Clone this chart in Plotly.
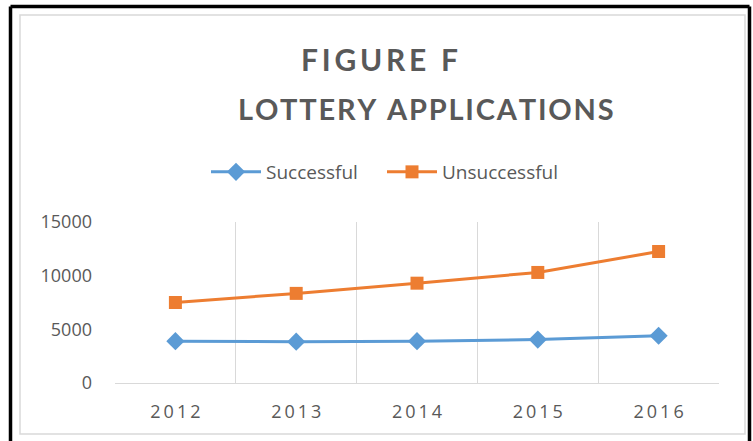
import plotly.graph_objects as go

years = ["2012", "2013", "2014", "2015", "2016"]
successful = [3900, 3850, 3900, 4050, 4400]
unsuccessful = [7500, 8350, 9300, 10300, 12250]
y_ticks = [0, 5000, 10000, 15000]
title_lines = ["FIGURE F", "LOTTERY APPLICATIONS"]

W, H = 753, 441
L, R, T, B = 115, 719, 222, 383
pw, ph = R - L, B - T

def px(x):
    return (x - L) / pw

def py(y):
    return (B - y) / ph

def spaced(s, sep="\u2009"):
    return sep.join(s)

fig = go.Figure()
fig.add_trace(go.Scatter(x=years, y=successful, name="Successful", mode="lines+markers",
                         line=dict(color="#5b9bd5", width=3),
                         marker=dict(symbol="diamond", size=14, color="#5b9bd5")))
fig.add_trace(go.Scatter(x=years, y=unsuccessful, name="Unsuccessful", mode="lines+markers",
                         line=dict(color="#ed7d31", width=3),
                         marker=dict(symbol="square", size=13, color="#ed7d31")))

grey = "#595959"
fig.update_layout(
    width=W, height=H,
    margin=dict(l=L, r=W - R, t=T, b=H - B, pad=0),
    paper_bgcolor="white", plot_bgcolor="white",
    font=dict(family="Open Sans", color=grey, size=17),
    showlegend=True,
    legend=dict(orientation="h", x=px(206), xanchor="left", y=py(172), yanchor="middle",
                font=dict(size=19, color=grey), itemwidth=50, traceorder="normal",
                entrywidth=111),
    xaxis=dict(type="category", range=[-0.5, 4.5], tickson="boundaries",
               showgrid=True, gridcolor="#d9d9d9", gridwidth=1.3,
               showline=True, linecolor="#d9d9d9", linewidth=1.3,
               ticks="", tickvals=years, ticktext=[spaced(y, "\u2009") for y in years],
               tickfont=dict(size=18, color=grey), ticklabelstandoff=12),
    yaxis=dict(range=[0, 15000], tickvals=y_ticks, tickformat="d", showgrid=False, zeroline=False,
               showline=False, ticks="", tickfont=dict(size=18, color=grey),
               ticklabelstandoff=22),
)

fig.add_annotation(text=spaced(title_lines[0], "\u2009"), xref="paper", yref="paper",
                   x=px(379), y=py(59), xanchor="center", yanchor="middle", showarrow=False,
                   font=dict(family="Lato", size=30, color=grey, weight="bold"))
fig.add_annotation(text=spaced(title_lines[1], "\u200a"), xref="paper", yref="paper",
                   x=px(426), y=py(108), xanchor="center", yanchor="middle", showarrow=False,
                   font=dict(family="Lato", size=29, color=grey, weight="bold"))

# chart area border (light grey) and outer black frame
fig.add_shape(type="rect", xref="paper", yref="paper", x0=px(20), x1=px(745), y0=py(434), y1=py(15),
              line=dict(color="#d9d9d9", width=1.5), layer="below")
for x0, y0, x1, y1 in [(10.5, 6.5, 749.5, 6.5), (10.5, 6.5, 10.5, 445), (749.5, 6.5, 749.5, 445)]:
    fig.add_shape(type="line", xref="paper", yref="paper", x0=px(x0), y0=py(y0), x1=px(x1), y1=py(y1),
                  line=dict(color="black", width=3.5))

fig.write_html("out.html", config={"displayModeBar": False},
               post_script="document.body.style.margin='0';document.body.style.overflow='hidden';")
